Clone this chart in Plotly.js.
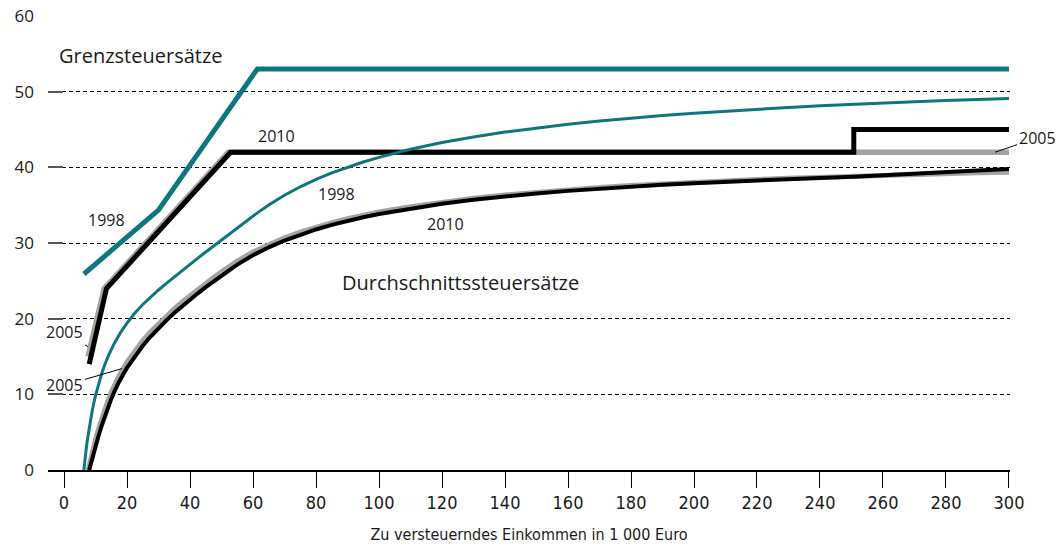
<!DOCTYPE html>
<html>
<head>
<meta charset="utf-8">
<script src="https://cdn.plot.ly/plotly-3.0.1.min.js"></script>
<style>html,body{margin:0;padding:0;background:#fff;}#chart{width:1061px;height:547px;}</style>
</head>
<body>
<div id="chart"></div>
<script>
// Grenzsteuersätze (marginal rates), % by income in 1 000 Euro
const grenz1998X = [6.32, 29.98, 61.38, 300];
const grenz1998Y = [25.9, 34.35, 53, 53];
const grenz2005X = [7.66, 12.74, 52.15, 300];
const grenz2005Y = [15, 23.97, 42, 42];
const grenz2010X = [8.0, 13.47, 52.88, 250.73, 250.73, 300];
const grenz2010Y = [14, 23.97, 42, 42, 45, 45];

// Durchschnittssteuersätze (average rates)
const avg1998X = [6.32, 6.5, 6.75, 7, 7.5, 8, 9, 10, 11, 12, 13, 14, 16, 18, 20, 22.5, 25, 27.5, 30, 32.5, 35, 37.5, 40, 42.5, 45, 47.5, 50, 52.5, 55, 57.5, 61.4, 65, 70, 75, 80, 85, 90, 95, 100, 110, 120, 130, 140, 150, 160, 170, 180, 190, 200, 210, 220, 230, 240, 250, 260, 270, 280, 290, 300];
const avg1998Y = [0, 0.82, 1.75, 2.62, 4.20, 5.59, 7.93, 9.84, 11.44, 12.80, 13.97, 15.01, 16.76, 18.20, 19.42, 20.74, 21.87, 22.89, 23.79, 24.67, 25.53, 26.36, 27.19, 28.00, 28.81, 29.61, 30.41, 31.20, 31.98, 32.76, 33.98, 35.03, 36.32, 37.43, 38.40, 39.26, 40.02, 40.71, 41.32, 42.38, 43.27, 44.02, 44.66, 45.21, 45.70, 46.13, 46.51, 46.85, 47.16, 47.44, 47.69, 47.92, 48.13, 48.33, 48.51, 48.67, 48.83, 48.97, 49.11];
const avg2005X = [7.66, 8, 8.5, 9, 9.5, 10, 11, 12, 12.74, 14, 15, 16, 17.5, 20, 22.5, 25, 27.5, 30, 32.5, 35, 37.5, 40, 42.5, 45, 47.5, 50, 52.15, 55, 60, 65, 70, 75, 80, 85, 90, 95, 100, 110, 120, 130, 140, 150, 160, 170, 180, 190, 200, 210, 220, 230, 240, 250, 260, 270, 280, 290, 300];
const avg2005Y = [0, 0.64, 1.55, 2.40, 3.21, 3.99, 5.44, 6.80, 7.76, 9.25, 10.28, 11.22, 12.47, 14.25, 15.76, 17.09, 18.27, 19.36, 20.37, 21.31, 22.20, 23.06, 23.88, 24.67, 25.44, 26.19, 26.82, 27.61, 28.81, 29.82, 30.69, 31.45, 32.11, 32.69, 33.21, 33.67, 34.09, 34.81, 35.41, 35.91, 36.35, 36.72, 37.05, 37.34, 37.60, 37.83, 38.04, 38.23, 38.40, 38.56, 38.70, 38.83, 38.96, 39.07, 39.17, 39.27, 39.36];
const avg2010X = [8.0, 8.25, 8.5, 9, 9.5, 10, 11, 12, 12.75, 13.47, 14, 15, 16, 17.5, 20, 22.5, 25, 27.5, 30, 32.5, 35, 37.5, 40, 42.5, 45, 47.5, 50, 52.88, 55, 60, 65, 70, 75, 80, 85, 90, 95, 100, 110, 120, 130, 140, 150, 160, 170, 180, 190, 200, 210, 220, 230, 240, 250.73, 260, 270, 280, 290, 300];
const avg2010Y = [0, 0.42, 0.84, 1.65, 2.42, 3.16, 4.56, 5.88, 6.82, 7.70, 8.33, 9.40, 10.37, 11.67, 13.51, 15.06, 16.42, 17.64, 18.75, 19.78, 20.74, 21.65, 22.52, 23.35, 24.16, 24.94, 25.69, 26.55, 27.14, 28.38, 29.43, 30.33, 31.10, 31.79, 32.39, 32.92, 33.40, 33.83, 34.57, 35.19, 35.71, 36.16, 36.55, 36.89, 37.19, 37.46, 37.70, 37.91, 38.11, 38.29, 38.45, 38.60, 38.74, 38.96, 39.19, 39.40, 39.59, 39.77];

const xTicks = [0, 20, 40, 60, 80, 100, 120, 140, 160, 180, 200, 220, 240, 260, 280, 300];
const yTicks = [0, 10, 20, 30, 40, 50, 60];

const TEAL = '#0d7680';
const GRAY = '#a3a3a3';
const BLACK = '#000000';
const TXT = 'Open Sans, Noto Sans, sans-serif';
const NARROW = 'Liberation Sans Narrow, DejaVu Sans Condensed, Arial Narrow, sans-serif';

function tr(x, y, color, width) {
  return {x: x, y: y, type: 'scatter', mode: 'lines', hoverinfo: 'skip',
          line: {color: color, width: width}, showlegend: false};
}

const data = [
  tr(avg2005X, avg2005Y, GRAY, 5),
  tr(grenz2005X, grenz2005Y, GRAY, 5.5),
  tr(avg2010X, avg2010Y, BLACK, 4),
  tr(grenz2010X, grenz2010Y, BLACK, 5),
  tr(grenz1998X, grenz1998Y, TEAL, 5),
  tr(avg1998X, avg1998Y, TEAL, 3)
];

function lab(text, x, y, size) {
  return {text: text, x: x, y: y, xref: 'x', yref: 'y', showarrow: false,
          font: {family: TXT, size: size, color: '#1a1a1a'}};
}
function lead(text, tx, ty, hx, hy) {
  return {text: text, ax: tx, ay: ty, x: hx, y: hy, xref: 'x', yref: 'y', axref: 'x', ayref: 'y',
          showarrow: true, arrowhead: 0, arrowwidth: 1, arrowcolor: '#000', standoff: 0, startstandoff: 0,
          font: {family: TXT, size: 16, color: '#1a1a1a'}};
}

const layout = {
  width: 1061, height: 547,
  margin: {l: 48, r: 51, t: 16, b: 77},
  paper_bgcolor: '#fff', plot_bgcolor: '#fff',
  xaxis: {
    range: [-5.08, 300.32], tickvals: xTicks, ticktext: xTicks.map(String),
    showgrid: false, zeroline: false, showline: true, linecolor: '#000', linewidth: 1.5,
    ticks: 'outside', ticklen: 16, tickwidth: 1, tickcolor: '#000',
    tickfont: {family: NARROW, size: 18, color: '#1a1a1a'},
    title: {text: 'Zu versteuerndes Einkommen in 1 000 Euro', font: {family: NARROW, size: 16, color: '#1a1a1a'}, standoff: 16}
  },
  yaxis: {
    range: [0, 60], tickvals: yTicks, ticktext: yTicks.map(String),
    showgrid: true, gridcolor: '#000', gridwidth: 1, griddash: '4px,3px',
    zeroline: false, showline: false,
    ticks: 'inside', ticklen: 15, tickwidth: 2, tickcolor: '#555',
    ticklabelstandoff: 13,
    tickfont: {family: TXT, size: 17, color: '#1a1a1a'}
  },
  annotations: [
    lab('Grenzsteuersätze', 24.4, 54.8, 20),
    lab('Durchschnittssteuersätze', 125.9, 24.8, 20),
    lab('2010', 67.6, 44.1, 16),
    lab('1998', 13.6, 33.0, 16),
    lab('1998', 86.6, 36.5, 16),
    lab('2010', 121.1, 32.5, 16),
    lead('2005', 0.3, 18.2, 7.6, 16.3),
    lead('2005', 0.3, 11.2, 18.4, 13.4),
    lead('2005', 308.9, 43.9, 295.6, 42.0)
  ]
};

Plotly.newPlot('chart', data, layout, {displayModeBar: false, staticPlot: true});
</script>
</body>
</html>
